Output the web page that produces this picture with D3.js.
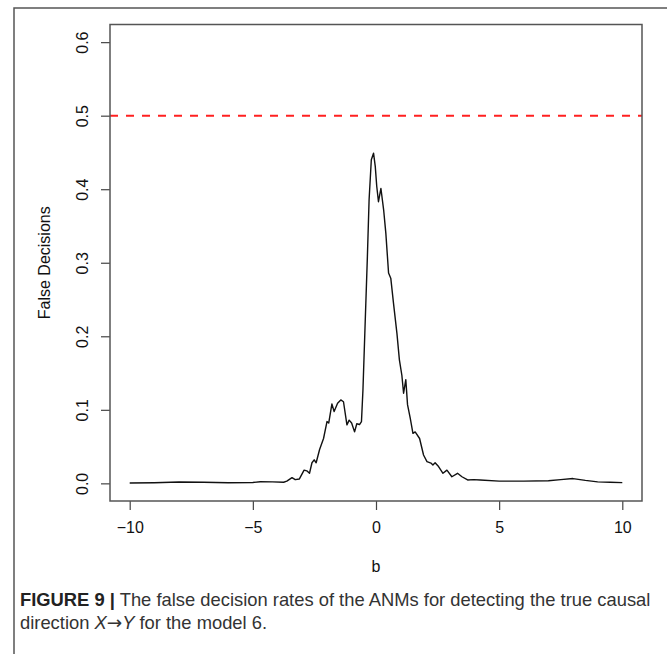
<!DOCTYPE html>
<html>
<head>
<meta charset="utf-8">
<script src="https://cdnjs.cloudflare.com/ajax/libs/d3/7.8.5/d3.min.js"></script>
<style>
  body { margin: 0; background: #fff; }
  svg text { font-family: "Liberation Sans", Arial, sans-serif; }
</style>
</head>
<body>
<div id="my_dataviz"></div>
<script>
// values (b on x, false decision rate on y)
var bValues = [-10, -9, -8, -7, -6, -5, -4.7, -4.2, -3.75, -3.62, -3.41, -3.28, -3.11,
  -2.92, -2.81, -2.70, -2.60, -2.51, -2.43, -2.29, -2.13, -1.99, -1.92, -1.79, -1.70,
  -1.56, -1.43, -1.32, -1.18, -1.09, -0.99, -0.87, -0.78, -0.67, -0.59, -0.53, -0.44,
  -0.35, -0.28, -0.19, -0.10, -0.03, 0.03, 0.10, 0.20, 0.31, 0.40, 0.51, 0.60, 0.71,
  0.85, 0.95, 1.05, 1.12, 1.21, 1.28, 1.39, 1.50, 1.59, 1.77, 1.93, 2.07, 2.23, 2.31,
  2.40, 2.54, 2.72, 2.88, 3.08, 3.31, 3.49, 3.72, 3.96, 4.23, 5, 6, 7, 7.5, 8, 8.5,
  9, 9.5, 10];
var falseRate = [0.0005, 0.0008, 0.0018, 0.0015, 0.0008, 0.0012, 0.0022, 0.002, 0.0015, 0.003, 0.0078, 0.005, 0.006,
  0.018, 0.017, 0.0137, 0.028, 0.032, 0.028, 0.046, 0.061, 0.084, 0.082, 0.108, 0.0976,
  0.109, 0.1135, 0.111, 0.0795, 0.086, 0.082, 0.070, 0.081, 0.080, 0.084, 0.127, 0.218,
  0.308, 0.386, 0.440, 0.449, 0.431, 0.404, 0.383, 0.401, 0.372, 0.340, 0.286, 0.279, 0.245,
  0.204, 0.168, 0.147, 0.1226, 0.141, 0.107, 0.0886, 0.068, 0.070, 0.061, 0.0386, 0.0296, 0.0276, 0.025,
  0.028, 0.0228, 0.0137, 0.018, 0.009, 0.0137, 0.009, 0.0046, 0.005, 0.0045, 0.003, 0.003, 0.0035, 0.005, 0.0065, 0.004,
  0.002, 0.0015, 0.001];
var xTicks = [-10, -5, 0, 5, 10];
var yTicks = [0, 0.1, 0.2, 0.3, 0.4, 0.5, 0.6];
var threshold = 0.5;
var captionBold = "FIGURE 9 |";
var captionLine1 = " The false decision rates of the ANMs for detecting the true causal";

var fullW = 667, fullH = 654;
var plot = {left: 110, right: 642, top: 24.5, bottom: 501};
var labelSize = 16;

var svg = d3.select("#my_dataviz")
  .append("svg")
    .attr("width", fullW)
    .attr("height", fullH);

// outer figure frame
svg.append("path")
  .attr("d", "M14," + fullH + "V8H" + fullW)
  .attr("fill", "none")
  .attr("stroke", "#555")
  .attr("stroke-width", 1.5);

// R style 4% padding around the data range
var x = d3.scaleLinear().domain([-10.8, 10.8]).range([plot.left, plot.right]);
var y = d3.scaleLinear().domain([-0.024, 0.624]).range([plot.bottom, plot.top]);

var xAxis = svg.append("g")
  .attr("transform", "translate(0," + plot.bottom + ")")
  .call(d3.axisBottom(x).tickValues(xTicks).tickSize(9).tickPadding(12)
        .tickFormat(function(d){ return d < 0 ? "\u2212" + Math.abs(d) : d; }));
xAxis.select(".domain").remove();

var yAxis = svg.append("g")
  .attr("transform", "translate(" + plot.left + ",0)")
  .call(d3.axisLeft(y).tickValues(yTicks).tickSize(9).tickFormat(d3.format(".1f")));
yAxis.select(".domain").remove();

svg.selectAll(".tick line").attr("stroke", "#444").attr("stroke-width", 1.2);
svg.selectAll(".tick text").attr("font-size", labelSize).attr("fill", "#111");

// rotate y tick labels like base R
yAxis.selectAll(".tick text")
  .attr("x", null)
  .attr("text-anchor", "middle")
  .attr("transform", "translate(-28,0) rotate(-90)")
  .attr("dy", "0.35em");

// threshold line
svg.append("line")
  .attr("x1", plot.left).attr("x2", plot.right)
  .attr("y1", y(threshold)).attr("y2", y(threshold))
  .attr("stroke", "#ff2020")
  .attr("stroke-width", 2)
  .attr("stroke-dasharray", "8,8");

// the curve
var pts = bValues.map(function(b, i){ return [b, falseRate[i]]; });
svg.append("path")
  .datum(pts)
  .attr("fill", "none")
  .attr("stroke", "#111")
  .attr("stroke-width", 1.4)
  .attr("stroke-linejoin", "round")
  .attr("d", d3.line().x(function(d){ return x(d[0]); }).y(function(d){ return y(d[1]); }));

// plot box
svg.append("rect")
  .attr("x", plot.left).attr("y", plot.top)
  .attr("width", plot.right - plot.left).attr("height", plot.bottom - plot.top)
  .attr("fill", "none")
  .attr("stroke", "#555")
  .attr("stroke-width", 1.5);

// axis titles
svg.append("text")
  .text("b")
  .attr("x", (plot.left + plot.right) / 2)
  .attr("y", 572)
  .attr("text-anchor", "middle")
  .attr("font-size", labelSize)
  .attr("fill", "#111");

svg.append("text")
  .text("False Decisions")
  .attr("transform", "translate(50," + (plot.top + plot.bottom) / 2 + ") rotate(-90)")
  .attr("text-anchor", "middle")
  .attr("font-size", labelSize)
  .attr("fill", "#111");

// caption
var cap = svg.append("text")
  .attr("x", 20).attr("y", 606)
  .attr("font-size", 16)
  .attr("fill", "#333");
cap.append("tspan").text(captionBold).attr("font-weight", "bold").attr("fill", "#222");
cap.append("tspan").text(captionLine1);

var cap2 = svg.append("text")
  .attr("x", 20).attr("y", 629)
  .attr("font-size", 16)
  .attr("fill", "#333");
cap2.append("tspan").text("direction ");
cap2.append("tspan").text("X").attr("font-style", "italic");
cap2.append("tspan").text("\u2192").style("font-family", "'DejaVu Sans', sans-serif");
cap2.append("tspan").text("Y").attr("font-style", "italic");
cap2.append("tspan").text(" for the model 6.");

// size the caption so its first line spans the same width as in the figure
var w = cap.node().getComputedTextLength();
var capSize = 16 * 631 / w;
cap.attr("font-size", capSize);
cap2.attr("font-size", capSize);
</script>
</body>
</html>
